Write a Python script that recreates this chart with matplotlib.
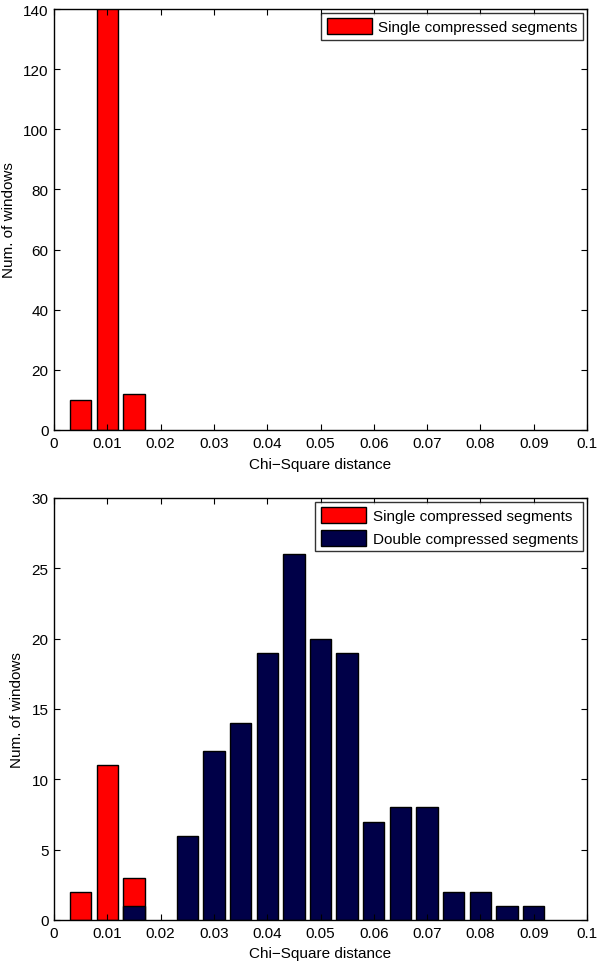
# Histogram van Chi-Square afstanden, single vs double compressed segmenten
import matplotlib
matplotlib.use("Agg")
import matplotlib.pyplot as plt

plt.rcParams['font.family'] = ['Liberation Sans', 'DejaVu Sans']
plt.rcParams['font.size'] = 11

# bin centra (stap 0.005)
bins_top = [0.005, 0.010, 0.015]
single_top = [10, 150, 12]          # middelste balk loopt boven 140 door

bins_single = [0.005, 0.010, 0.015]
single_bot = [2, 11, 3]

bins_double = [0.015, 0.025, 0.030, 0.035, 0.040, 0.045, 0.050, 0.055,
               0.060, 0.065, 0.070, 0.075, 0.080, 0.085, 0.090]
double_bot = [1, 6, 12, 14, 19, 26, 20, 19, 7, 8, 8, 2, 2, 1, 1]

xticks = [0, 0.01, 0.02, 0.03, 0.04, 0.05, 0.06, 0.07, 0.08, 0.09, 0.1]
xticklabels = ['0', '0.01', '0.02', '0.03', '0.04', '0.05', '0.06', '0.07', '0.08', '0.09', '0.1']

red = '#ff0000'
navy = '#000048'
width = 0.004


def matlab_style(ax):
    ax.tick_params(direction='in', top=True, right=True, length=4, width=0.8, pad=4)
    for s in ax.spines.values():
        s.set_linewidth(1.0)
    ax.set_xlim(0, 0.1)
    ax.set_xticks(xticks)
    ax.set_xticklabels(xticklabels)
    ax.set_xlabel('Chi\u2212Square distance', labelpad=5)
    ax.set_ylabel('Num. of windows', labelpad=5)


def legenda(ax):
    leg = ax.legend(loc='upper right', fancybox=False, edgecolor='black',
                    handlelength=3.0, handleheight=1.2, borderaxespad=0.25,
                    borderpad=0.35, handletextpad=0.4, labelspacing=0.45)
    leg.get_frame().set_linewidth(1.0)


fig = plt.figure(figsize=(6, 9.62), dpi=100)

# bovenste plot
ax1 = fig.add_axes([54 / 600, 1 - 431 / 962, 533 / 600, 421 / 962])
ax1.bar(bins_top, single_top, width=width, color=red, edgecolor='black',
        linewidth=1, label='Single compressed segments')
matlab_style(ax1)
ax1.set_ylim(0, 140)
ax1.set_yticks(range(0, 141, 20))
legenda(ax1)

# onderste plot
ax2 = fig.add_axes([54 / 600, 1 - 921 / 962, 533 / 600, 422 / 962])
ax2.bar(bins_single, single_bot, width=width, color=red, edgecolor='black',
        linewidth=1, label='Single compressed segments')
ax2.bar(bins_double, double_bot, width=width, color=navy, edgecolor='black',
        linewidth=1, label='Double compressed segments')
matlab_style(ax2)
ax2.set_ylim(0, 30)
ax2.set_yticks(range(0, 31, 5))
legenda(ax2)

fig.savefig('out.png', dpi=100)
